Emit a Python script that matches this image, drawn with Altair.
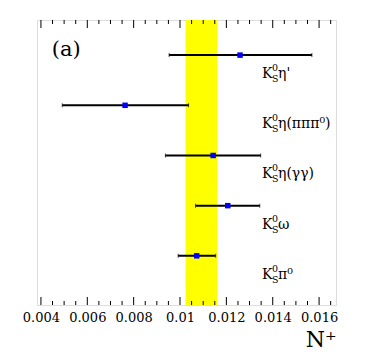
import altair as alt
import pandas as pd

# ---- data ----
channels = ["K_S η'", "K_S η(πππ0)", "K_S η(γγ)", "K_S ω", "K_S π0"]
label_rest = ["η'", "η(πππ⁰)", "η(γγ)", "ω", "π⁰"]
row = [5, 4, 3, 2, 1]
n_plus = [0.01259, 0.00763, 0.01143, 0.01206, 0.01072]
err_lo = [0.00953, 0.00492, 0.00937, 0.01067, 0.00992]
err_hi = [0.01569, 0.01037, 0.01348, 0.01344, 0.01154]

band_lo = [0.01024]
band_hi = [0.0116]

major_ticks = [0.004, 0.006, 0.008, 0.010, 0.012, 0.014, 0.016]
minor_ticks = [0.0045, 0.005, 0.0055, 0.0065, 0.007, 0.0075, 0.0085, 0.009,
               0.0095, 0.0105, 0.011, 0.0115, 0.0125, 0.013, 0.0135,
               0.0145, 0.015, 0.0155, 0.0165]

W, H = 299, 285
SERIF = "DejaVu Serif"

df = pd.DataFrame({"ch": channels, "rest": label_rest, "row": row,
                   "n": n_plus, "lo": err_lo, "hi": err_hi})
band = pd.DataFrame({"lo": band_lo, "hi": band_hi})
maj = pd.DataFrame({"t": major_ticks})
mnr = pd.DataFrame({"t": minor_ticks})
tag = pd.DataFrame({"x": [0.00447], "row": [5], "t": ["(a)"]})

xscale = alt.Scale(domain=[0.00383, 0.01673], nice=False, zero=False)
yscale = alt.Scale(domain=[0.02, 5.7], nice=False, zero=False)

xaxis = alt.Axis(values=major_ticks, format="~g", ticks=False, grid=False,
                 domain=False, labelFont=SERIF, labelFontSize=13,
                 labelColor="black", labelPadding=6, labelFlush=False,
                 title="N⁺", titleFont=SERIF, titleFontSize=22,
                 titleFontWeight="normal", titleColor="black",
                 titleAnchor="end", titleAlign="right", titleX=W,
                 titleY=41, titleBaseline="alphabetic")

bandm = alt.Chart(band).mark_rect(color="#ffff00").encode(
    x=alt.X("lo:Q", scale=xscale, axis=xaxis), x2="hi:Q",
    y=alt.value(0), y2=alt.value(H))

base = alt.Chart(df)
rules = base.mark_rule(color="black", strokeWidth=2).encode(
    x=alt.X("lo:Q", scale=xscale), x2="hi:Q",
    y=alt.Y("row:Q", scale=yscale, axis=None))
caps_lo = base.mark_tick(color="black", orient="vertical", size=4, thickness=1).encode(
    x=alt.X("lo:Q", scale=xscale), y=alt.Y("row:Q", scale=yscale))
caps_hi = base.mark_tick(color="black", orient="vertical", size=4, thickness=1).encode(
    x=alt.X("hi:Q", scale=xscale), y=alt.Y("row:Q", scale=yscale))
pts = base.mark_square(color="#0000ff", size=30, opacity=1).encode(
    x=alt.X("n:Q", scale=xscale), y=alt.Y("row:Q", scale=yscale))

lx = 225
lab_k = base.mark_text(font=SERIF, fontSize=14, align="left", baseline="alphabetic",
                       dy=23, color="black", text="K").encode(
    x=alt.value(lx), y=alt.Y("row:Q", scale=yscale))
lab_sup = base.mark_text(font=SERIF, fontSize=9.5, align="left", baseline="alphabetic",
                         dy=16, dx=10, color="black", text="0").encode(
    x=alt.value(lx), y=alt.Y("row:Q", scale=yscale))
lab_sub = base.mark_text(font=SERIF, fontSize=9.5, align="left", baseline="alphabetic",
                         dy=27, dx=10, color="black", text="S").encode(
    x=alt.value(lx), y=alt.Y("row:Q", scale=yscale))
lab_rest = base.mark_text(font=SERIF, fontSize=14, align="left", baseline="alphabetic",
                          dy=23, dx=16, color="black").encode(
    x=alt.value(lx), y=alt.Y("row:Q", scale=yscale), text="rest:N")

tagm = alt.Chart(tag).mark_text(font=SERIF, fontSize=21, align="left",
                                baseline="alphabetic", dy=1, color="black").encode(
    x=alt.X("x:Q", scale=xscale), y=alt.Y("row:Q", scale=yscale), text="t:N")

tk_maj_b = alt.Chart(maj).mark_rule(color="black", strokeWidth=1).encode(
    x=alt.X("t:Q", scale=xscale), y=alt.value(H), y2=alt.value(H - 8))
tk_maj_t = alt.Chart(maj).mark_rule(color="black", strokeWidth=1).encode(
    x=alt.X("t:Q", scale=xscale), y=alt.value(0), y2=alt.value(8))
tk_min_b = alt.Chart(mnr).mark_rule(color="black", strokeWidth=1).encode(
    x=alt.X("t:Q", scale=xscale), y=alt.value(H), y2=alt.value(H - 4))
tk_min_t = alt.Chart(mnr).mark_rule(color="black", strokeWidth=1).encode(
    x=alt.X("t:Q", scale=xscale), y=alt.value(0), y2=alt.value(4))

chart = alt.layer(bandm, tk_maj_b, tk_maj_t, tk_min_b, tk_min_t,
                  rules, caps_lo, caps_hi, pts,
                  lab_k, lab_sup, lab_sub, lab_rest, tagm).properties(
    width=W, height=H,
    autosize=alt.AutoSizeParams(type="none"),
    padding={"left": 29, "top": 12, "right": 30, "bottom": 48},
).configure_view(stroke="black", strokeWidth=1.5).configure(
    background="white", font=SERIF)

chart.save("out.html", embed_options={"renderer": "svg", "actions": False})
